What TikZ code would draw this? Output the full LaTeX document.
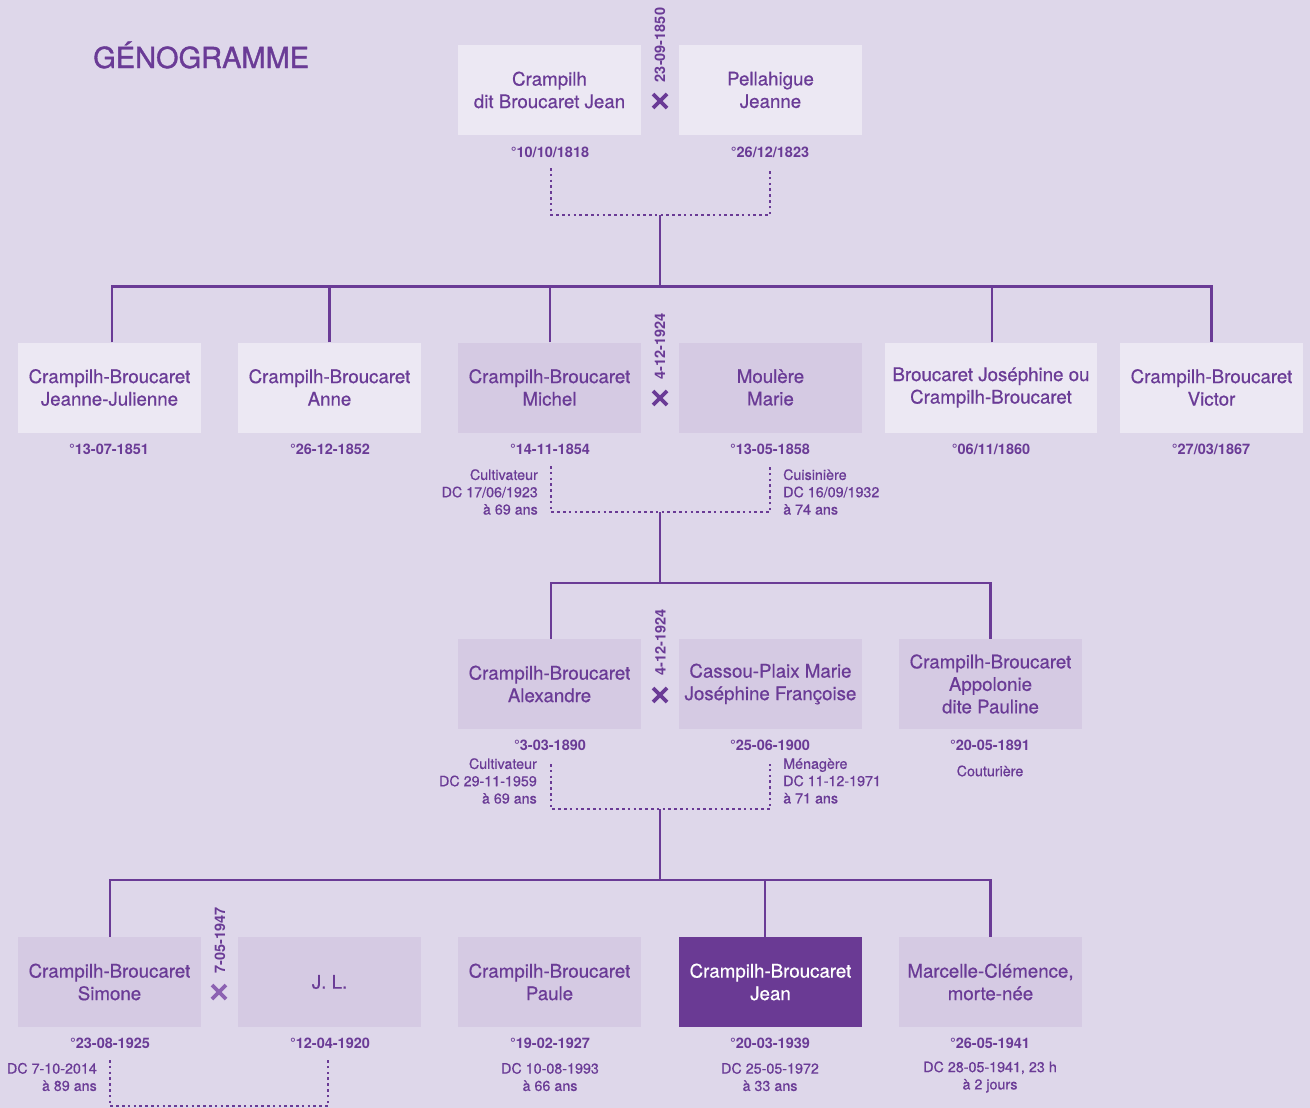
\documentclass[tikz,border=0pt]{standalone}
\usepackage{fontspec}
\setmainfont{TeX Gyre Heros}
\newfontfamily\medfont{TeX Gyre Heros}[FakeBold=0.6]
\newfontfamily\titlefont{TeX Gyre Heros}[FakeBold=1.2]
\definecolor{bgc}{HTML}{DED7EA}
\definecolor{boxlight}{HTML}{ECE8F3}
\definecolor{boxmid}{HTML}{D5CAE3}
\definecolor{purp}{HTML}{6A3B96}
\definecolor{boxdark}{HTML}{6A3A94}
\definecolor{xlight}{HTML}{8C62B2}
\begin{document}
\begin{tikzpicture}[x=1pt,y=-1pt,
  person/.style={rectangle, minimum width=183pt, minimum height=90pt, inner sep=0pt, align=center, text=purp, font=\medfont\fontsize{18.7}{22.5}\selectfont},
  lightbox/.style={person, fill=boxlight},
  midbox/.style={person, fill=boxmid},
  darkbox/.style={person, fill=boxdark, text=white},
  datel/.style={text=purp, inner sep=0pt, font=\bfseries\fontsize{14.5}{17}\selectfont},
  infol/.style={text=purp, inner sep=0pt, font=\medfont\fontsize{14.3}{17.3}\selectfont},
  marrl/.style={text=purp, inner sep=0pt, rotate=90, font=\bfseries\fontsize{14.5}{17}\selectfont},
  conn/.style={draw=purp, line width=2.4pt},
  dotl/.style={draw=purp, line width=2.6pt, dash pattern=on 2.6pt off 3.2pt},
  xmark/.style={draw=purp, line width=3.6pt}
]
\fill[bgc] (0,0) rectangle (1310,1108);
\useasboundingbox (0,0) rectangle (1310,1108);

\node[text=purp, anchor=west, inner sep=0pt, font=\titlefont\fontsize{29}{34}\selectfont] (title) at (93,55) {GÉNOGRAMME};

% ---------- Generation 1
\node[lightbox] (g1a) at (549.5,90) {Crampilh\\dit Broucaret Jean};
\node[lightbox] (g1b) at (770.5,90) {Pellahigue\\Jeanne};
\node[marrl] (m1) at (660,45) {23-09-1850};
\draw[xmark] (653,94) -- (667,108) (667,94) -- (653,108);
\node[datel] (d1a) at (550,152) {°10/10/1818};
\node[datel] (d1b) at (770,152) {°26/12/1823};
\coordinate (t1a) at (551,168);
\coordinate (t1b) at (770,168);
\coordinate (j1) at (660,215);
\coordinate (b1) at (660,286);
\draw[dotl] (t1a) |- (j1) -| (t1b);
\draw[conn] (j1) -- (b1);

% ---------- Generation 2
\node[lightbox] (g2a) at (109.5,387.5) {Crampilh-Broucaret\\Jeanne-Julienne};
\node[lightbox] (g2b) at (329.5,387.5) {Crampilh-Broucaret\\Anne};
\node[midbox] (g2c) at (549.5,387.5) {Crampilh-Broucaret\\Michel};
\node[midbox] (g2d) at (770.5,387.5) {Moulère\\Marie};
\node[lightbox, minimum width=212pt] (g2e) at (991,387.5) {Broucaret Joséphine ou\\Crampilh-Broucaret};
\node[lightbox] (g2f) at (1211.5,387.5) {Crampilh-Broucaret\\Victor};
\node[marrl] (m2) at (660,346.5) {4-12-1924};
\draw[xmark] (653,391) -- (667,405) (667,391) -- (653,405);

\draw[conn] ([xshift=2.5pt]g2a.north) -- ++(0,-56) -| (g2f.north);
\draw[conn] (g2b.north) -- (g2b.north |- b1);
\draw[conn] ([xshift=0.5pt]g2c.north) -- ([xshift=0.5pt]g2c.north |- b1);
\draw[conn] ([xshift=1pt]g2e.north) -- ([xshift=1pt]g2e.north |- b1);

\node[datel] (d2a) at (109,449) {°13-07-1851};
\node[datel] (d2b) at (330,449) {°26-12-1852};
\node[datel] (d2c) at (550,449) {°14-11-1854};
\node[datel] (d2d) at (770,449) {°13-05-1858};
\node[datel] (d2e) at (991,449) {°06/11/1860};
\node[datel] (d2f) at (1211,449) {°27/03/1867};
\node[infol, anchor=east, align=right] (i2c) at (538,492) {Cultivateur\\DC 17/06/1923\\à 69 ans};
\node[infol, anchor=west, align=left] (i2d) at (783,492) {Cuisinière\\DC 16/09/1932\\à 74 ans};
\coordinate (t2a) at (551,466);
\coordinate (t2b) at (770,466);
\coordinate (j2) at (660,512);
\coordinate (b2) at (660,583);
\draw[dotl] (t2a) |- (j2) -| (t2b);
\draw[conn] (j2) -- (b2);

% ---------- Generation 3
\node[midbox] (g3a) at (549.5,684) {Crampilh-Broucaret\\Alexandre};
\node[midbox] (g3b) at (770.5,684) {Cassou-Plaix Marie\\Joséphine Françoise};
\node[midbox] (g3c) at (990.5,684) {Crampilh-Broucaret\\Appolonie\\dite Pauline};
\node[marrl] (m3) at (660.5,642.5) {4-12-1924};
\draw[xmark] (653,688) -- (667,702) (667,688) -- (653,702);

\draw[conn] ([xshift=1.5pt]g3a.north) -- ++(0,-56) -| (g3c.north);

\node[datel] (d3a) at (550,745) {°3-03-1890};
\node[datel] (d3b) at (770,745) {°25-06-1900};
\node[datel] (d3c) at (990,745) {°20-05-1891};
\node[infol] (i3c) at (990,771) {Couturière};
\node[infol, anchor=east, align=right] (i3a) at (537,781) {Cultivateur\\DC 29-11-1959\\à 69 ans};
\node[infol, anchor=west, align=left] (i3b) at (783,781) {Ménagère\\DC 11-12-1971\\à 71 ans};
\coordinate (t3a) at (551,764);
\coordinate (t3b) at (770,764);
\coordinate (j3) at (660,809);
\coordinate (b3) at (660,880);
\draw[dotl] (t3a) |- (j3) -| (t3b);
\draw[conn] (j3) -- (b3);

% ---------- Generation 4
\node[midbox] (g4a) at (109.5,982) {Crampilh-Broucaret\\Simone};
\node[midbox] (g4b) at (329.5,982) {J. L.};
\node[midbox] (g4c) at (549.5,982) {Crampilh-Broucaret\\Paule};
\node[darkbox] (g4d) at (770.5,982) {Crampilh-Broucaret\\Jean};
\node[midbox] (g4e) at (990.5,982) {Marcelle-Clémence,\\morte-née};
\node[marrl] (m4) at (220,940.5) {7-05-1947};
\draw[xmark, draw=xlight] (212,985) -- (226,999) (226,985) -- (212,999);

\draw[conn] ([xshift=0.5pt]g4a.north) -- ++(0,-57) -| (g4e.north);
\draw[conn] ([xshift=-5.5pt]g4d.north) -- ([xshift=-5.5pt]g4d.north |- b3);

\node[datel] (d4a) at (110,1043) {°23-08-1925};
\node[datel] (d4b) at (330,1043) {°12-04-1920};
\node[datel] (d4c) at (550,1043) {°19-02-1927};
\node[datel] (d4d) at (770,1043) {°20-03-1939};
\node[datel] (d4e) at (990,1043) {°26-05-1941};
\node[infol, anchor=east, align=right] (i4a) at (97,1077) {DC 7-10-2014\\à 89 ans};
\node[infol, align=center] (i4c) at (550,1077) {DC 10-08-1993\\à 66 ans};
\node[infol, align=center] (i4d) at (770,1077) {DC 25-05-1972\\à 33 ans};
\node[infol, align=center] (i4e) at (990,1077) {DC 28-05-1941, 23 h\\à 2 jours};
\coordinate (t4a) at (110,1060);
\coordinate (t4b) at (328,1060);
\coordinate (j4) at (219,1106);
\draw[dotl] (t4a) |- (j4) -| (t4b);
\end{tikzpicture}
\end{document}
